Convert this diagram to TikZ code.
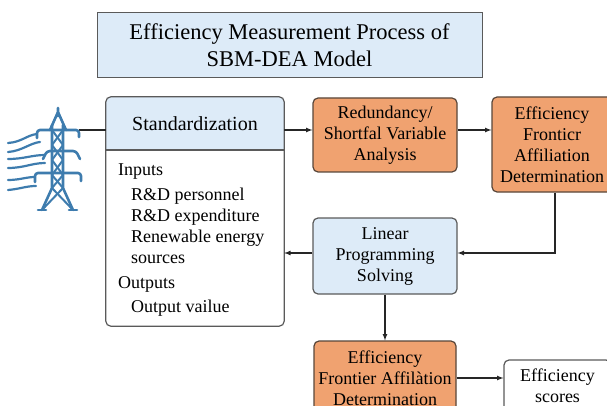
\documentclass[tikz,border=0pt]{standalone}
\usepackage{fontspec}
\setmainfont{Liberation Serif}
\usepackage{tikz}
\usepackage{xcolor}
\usetikzlibrary{positioning,shapes,arrows}
\definecolor{boxblue}{RGB}{221,235,248}
\definecolor{boxorange}{RGB}{240,162,112}
\definecolor{towerblue}{RGB}{62,124,174}
\definecolor{edgegray}{RGB}{90,90,90}
\definecolor{edgebrown}{RGB}{88,70,58}

\begin{document}
\begin{tikzpicture}[x=1pt,y=1pt,
  titlebox/.style={draw=edgegray,fill=boxblue,line width=1pt,align=center,
    font=\fontsize{22.5}{27}\selectfont},
  procbox/.style={draw=edgebrown,fill=boxorange,rounded corners=5pt,line width=1.2pt,
    align=center,font=\fontsize{18}{21}\selectfont},
  lpbox/.style={procbox,draw=edgegray,fill=boxblue},
  scorebox/.style={procbox,draw=edgegray,fill=white},
  link/.style={draw=black!85,line width=1.2pt},
  tower/.style={draw=towerblue,line width=2.6pt,line cap=round,line join=round}]
\tikzstyle{every node}+=[inner sep=0pt]
\useasboundingbox (0,0) rectangle (607,-406);
\clip (0,0) rectangle (607,-406);
\node[titlebox,minimum width=385pt,minimum height=65pt] (title) at (289.5,-45.5) {Efficiency Measurement Process of\\SBM-DEA Model};
\node[fill=white,minimum width=178pt,minimum height=229pt] (std) at (195,-211.5) {};
\coordinate (hdrline) at (0,-150);
\fill[boxblue,rounded corners=5pt] (std.west |- hdrline) |- (std.north) -| (std.east |- hdrline);
\draw[edgegray,line width=1.2pt] (std.west |- hdrline) -- (std.east |- hdrline);
\draw[edgegray,line width=1.2pt,rounded corners=5pt] (std.south west) rectangle (std.north east);
\node[font=\fontsize{20}{24}\selectfont] (hdr) at (195,-123.5) {Standardization};
\node[anchor=north west,align=left,font=\fontsize{18}{21}\selectfont] (stdtext) at (118,-164) {Inputs\\[4pt]
  \hspace*{13pt}R\&D personnel\\
  \hspace*{13pt}R\&D expenditure\\
  \hspace*{13pt}Renewable energy\\
  \hspace*{13pt}sources\\[4pt]
  Outputs\\[3pt]
  \hspace*{13pt}Output vailue};
\node[procbox,minimum width=144pt,minimum height=74pt] (redund) at (385,-135) {Redundancy/\\Shortfal Variable\\Analysis};
\node[procbox,minimum width=120pt,minimum height=95pt] (effr) at (552,-144.5) {Efficiency\\Fronticr\\Affiliation\\Determination};
\node[lpbox,minimum width=144pt,minimum height=76pt] (lp) at (385,-256) {Linear\\Programming\\Solving};
\node[procbox,minimum width=142pt,minimum height=74pt] (effb) at (385,-378) {Efficiency\\Frontier Affilàtion\\Determination};
\node[scorebox,minimum width=107pt,minimum height=52pt] (score) at (557.5,-386) {Efficiency\\scores};
\coordinate (wire) at (79,-130);
\coordinate (back) at ([yshift=3pt]lp.west);
\coordinate (drop) at ([xshift=3pt]effr.south);
\draw[link] (wire) -- (wire -| std.west);
\draw[link,-latex] (std.east |- wire) -- (redund.west |- wire);
\draw[link,-latex] (redund.east |- wire) -- (effr.west |- wire);
\draw[link,-latex] (drop) |- (lp.east |- back);
\draw[link,-latex] (back) -- (std.east |- back);
\draw[link,-latex] (lp.south) -- (effb.north);
\draw[link,-latex] (effb.east) -- (score.west |- effb.east);
\draw[tower] (58,-112) -- (50,-130) (58,-112) -- (66,-130) (58,-108) -- (58,-116);
\draw[tower] (52,-125) -- (52,-188) -- (42,-210) (63,-125) -- (63,-188) -- (73,-210);
\draw[tower] (38,-210) -- (46,-210) (69,-210) -- (77,-210);
\draw[tower,line width=2pt] (52,-130) -- (63,-145) -- (52,-160) -- (63,-175) -- (52,-188) -- (73,-210);
\draw[tower,line width=2pt] (63,-130) -- (52,-145) -- (63,-160) -- (52,-175) -- (63,-188) -- (42,-210);
\draw[tower,rounded corners=3pt] (37,-138) |- (79,-130) -- (79,-137);
\draw[tower,rounded corners=3pt] (43,-159) -- (47,-151) -- (76,-151) -- (80,-159);
\draw[tower,rounded corners=3pt] (35,-182) |- (81,-173) -- (81,-181);
\draw[tower,line width=2.2pt] (37,-134) .. controls (27,-135) and (22,-142) .. (8,-143);
\draw[tower,line width=2.2pt] (40,-142) .. controls (30,-143) and (22,-151) .. (8,-152);
\draw[tower,line width=2.2pt] (45,-155) .. controls (32,-155) and (24,-159) .. (8,-159);
\draw[tower,line width=2.2pt] (45,-163) .. controls (32,-163) and (24,-168) .. (8,-168);
\draw[tower,line width=2.2pt] (35,-177) .. controls (26,-177) and (20,-180) .. (8,-180);
\draw[tower,line width=2.2pt] (36,-186) .. controls (26,-186) and (20,-189) .. (8,-190);
\end{tikzpicture}
\end{document}
